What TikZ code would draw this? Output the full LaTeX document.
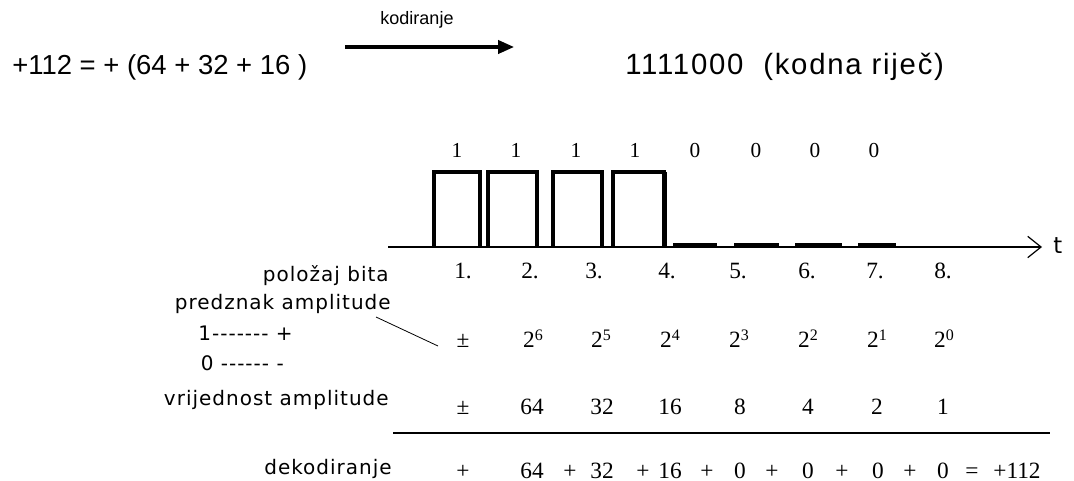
\documentclass[tikz,border=0pt]{standalone}
\usepackage{fontspec}
\setmainfont{Liberation Serif}
\newfontfamily\arialf{Liberation Sans}
\newfontfamily\bmf{DejaVu Sans}[LetterSpace=5]
\usetikzlibrary{arrows.meta}
\newcommand{\pw}[1]{2\raisebox{0.6ex}{\fontsize{12}{13}\selectfont #1}}
\begin{document}
\begin{tikzpicture}[x=0.75pt,y=-0.75pt,
  big/.style={font=\arialf\fontsize{20.6}{24}\selectfont, inner sep=0pt, anchor=base west},
  small/.style={font=\arialf\fontsize{13.5}{15}\selectfont, inner sep=0pt, anchor=base},
  lbl/.style={font=\bmf\fontsize{15}{17}\selectfont, inner sep=0pt, anchor=base east},
  bitl/.style={font=\fontsize{16}{18}\selectfont, inner sep=0pt, anchor=base},
  num/.style={font=\fontsize{17.5}{19}\selectfont, inner sep=0pt, anchor=base},
  pulse/.style={line width=2.3pt, line join=miter},
  zbar/.style={fill=black},
  thinline/.style={line width=0.9pt},
]
\useasboundingbox (0,0) rectangle (1074,481);

% top line
\node[big] (expr) at (12,75) {+112 = + (64 + 32 + 16 )};
\node[big, font=\arialf\fontsize{22}{24}\selectfont\addfontfeatures{LetterSpace=6}] (cw) at (625,75) {1111000\ \ (kodna riječ)};
\coordinate (arrS) at (345,47);
\coordinate (arrE) at (514,47);
\draw[line width=2.3pt, -{Triangle[length=12pt,width=10pt]}] (arrS) -- (arrE);
\node[small] (kod) at (417,25) {kodiranje};

% pulses
\draw[pulse] (434,247) -- (434,172) -- (480,172) -- (480,247);
\draw[pulse] (488,247) -- (488,172) -- (537,172) -- (537,247);
\draw[pulse] (553,247) -- (553,172) -- (602,172) -- (602,247);
\draw[pulse] (613,247) -- (613,172) -- (664,172) -- (664,247);
\fill (662,172) rectangle (667,247);
\fill[zbar] (673,242.5) rectangle (717,247);
\fill[zbar] (734,242.5) rectangle (779,247);
\fill[zbar] (795,242.5) rectangle (842,247);
\fill[zbar] (858,242.5) rectangle (896,247);

% time axis
\coordinate (ax0) at (388,247);
\coordinate (ax1) at (1042,247);
\draw[thinline, -{Straight Barb[length=10pt,width=16pt]}] (ax0) -- (ax1);
\node[lbl, anchor=base west, font=\bmf\fontsize{17}{19}\selectfont] (t) at (1053,253) {t};

% bit labels
\foreach \x/\b [count=\i] in {457/1,516/1,576/1,635/1,695/0,756/0,815/0,874/0}
  \node[bitl] (bit\i) at (\x,157) {\b};

% positions
\foreach \x [count=\i] in {463,530,594,667,738,807,875,943}
  \node[num] (pos\i) at (\x,278) {\i.};

% powers
\node[num] (pw1) at (463,347) {±};
\foreach \x/\e [count=\i from 2] in {533/6,601/5,670/4,739/3,808/2,877/1,944/0}
  \node[num] (pw\i) at (\x,347) {\pw{\e}};

% values
\foreach \x/\v [count=\i] in {463/±,532/64,602/32,670/16,740/8,808/4,877/2,943/1}
  \node[num] (val\i) at (\x,414) {\v};

% rule
\coordinate (r0) at (393,433);
\coordinate (r1) at (1050,433);
\draw[line width=1.3pt] (r0) -- (r1);

% decoding row
\foreach \x/\v [count=\i] in {463/+,532/64,570/+,602/32,643/+,670/16,707/+,740/0,772/+,808/0,842/+,878/0,910/+,943/0,972/=,1017/+112}
  \node[num] (dec\i) at (\x,478) {\v};

% left labels
\node[lbl] (lpos) at (389,281) {položaj bita};
\node[lbl] (lsign) at (391,309) {predznak amplitude};
\node[lbl] (lone) at (293,340) {1------- +};
\node[lbl] (lzero) at (284,370) {0 ------ -};
\node[lbl] (lval) at (389,405) {vrijednost amplitude};
\node[lbl] (ldec) at (392,474) {dekodiranje};

\coordinate (d0) at (376,317);
\coordinate (d1) at (438,346);
\draw[line width=0.6pt] (d0) -- (d1);
\end{tikzpicture}
\end{document}
